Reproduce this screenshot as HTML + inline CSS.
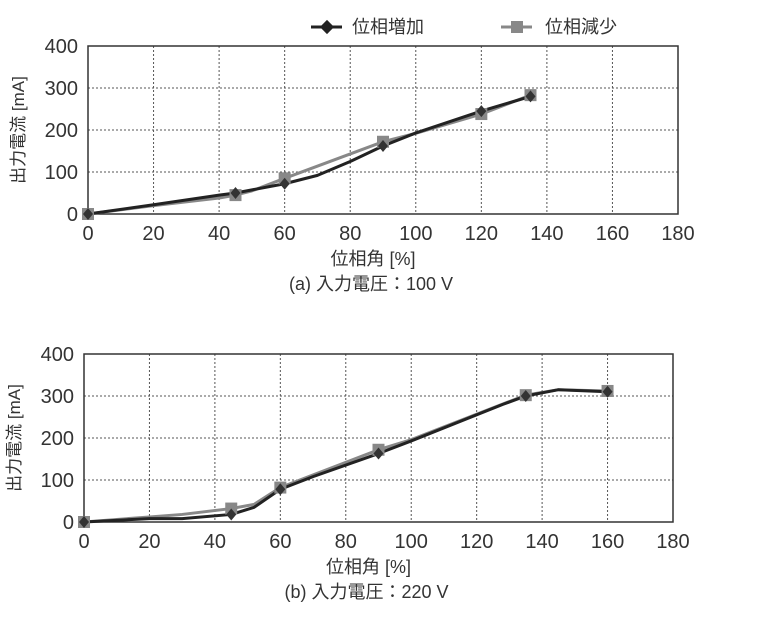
<!DOCTYPE html>
<html><head><meta charset="utf-8">
<style>
body{margin:0;background:#fff;}
svg text{font-family:"Liberation Sans Narrow","Liberation Sans","Noto Sans CJK JP",sans-serif;fill:#333;}
</style></head>
<body>
<svg id="c" width="766" height="620" viewBox="0 0 766 620">
<g>
 <g>
  <line x1="311" y1="27" x2="342" y2="27" stroke="#222" stroke-width="3"/>
  <rect x="322" y="22" width="10" height="10" fill="#222" transform="rotate(45 327 27)"/>
  <text x="352" y="33" font-size="18">位相増加</text>
 </g>
 <g>
  <line x1="501" y1="27" x2="532" y2="27" stroke="#888" stroke-width="3"/>
  <rect x="511" y="21" width="12" height="12" fill="#888"/>
  <text x="545" y="33" font-size="18">位相減少</text>
 </g>
</g>
</svg>
<script>
const xTicks=[0,20,40,60,80,100,120,140,160,180];
const yTicks=[0,100,200,300,400];
const aIncX=[0,20,40,45,60,70,80,90,100,120,135];
const aIncY=[0,22,45,50,72,92,125,162,193,245,280];
const aIncMarkX=[0,45,60,90,120,135];
const aIncMarkY=[0,50,72,162,245,280];
const aDecX=[0,20,40,45,50,60,90,100,120,135];
const aDecY=[0,20,38,45,55,85,172,192,238,283];
const aDecMarkX=[0,45,60,90,120,135];
const aDecMarkY=[0,45,85,172,238,283];
const bIncX=[0,20,30,45,52,60,70,90,100,128,135,145,160];
const bIncY=[0,8,8,18,35,78,108,163,193,280,300,315,310];
const bIncMarkX=[0,45,60,90,135,160];
const bIncMarkY=[0,18,78,163,300,310];
const bDecX=[0,20,30,45,52,60,90,100,135,145,160];
const bDecY=[0,12,18,32,42,82,172,196,302,315,312];
const bDecMarkX=[0,45,60,90,135,160];
const bDecMarkY=[0,32,82,172,302,312];

const NS='http://www.w3.org/2000/svg';
const svg=document.getElementById('c');
function mk(tag,attrs,parent){const e=document.createElementNS(NS,tag);for(const k in attrs)e.setAttribute(k,attrs[k]);parent.appendChild(e);return e;}

function chart(name,L,R,T,B,inc,dec,caption){
 const g=mk('g',{},svg);
 
 
 const sx=v=>L+(R-L)*v/180, sy=v=>B-(B-T)*v/400;
 xTicks.forEach(t=>{if(t>0&&t<180){const l=mk('line',{x1:sx(t),x2:sx(t),y1:T,y2:B,stroke:'#555','stroke-width':1,'stroke-dasharray':'2,2'},g);
  }
  const tx=mk('text',{x:sx(t),y:B+26,'font-size':20,'text-anchor':'middle'},g);tx.textContent=t;
  });
 yTicks.forEach(t=>{if(t>0&&t<400){const l=mk('line',{x1:L,x2:R,y1:sy(t),y2:sy(t),stroke:'#555','stroke-width':1,'stroke-dasharray':'2,2'},g);
  }
  const tx=mk('text',{x:L-10,y:sy(t)+7,'font-size':20,'text-anchor':'end'},g);tx.textContent=t;
  });
 const fr=mk('rect',{x:L,y:T,width:R-L,height:B-T,fill:'none',stroke:'#333','stroke-width':1.5},g);
 
 const yt=mk('text',{x:0,y:0,'font-size':17,'text-anchor':'middle',transform:`translate(${L-64},${(T+B)/2}) rotate(-90)`},g);
 yt.textContent='出力電流 [mA]';
 const xt=mk('text',{x:(L+R)/2-10,y:B+51,'font-size':18,'text-anchor':'middle'},g);
 xt.textContent='位相角 [%]';
 const cp=mk('text',{x:(L+R)/2-12,y:B+76,'font-size':18,'text-anchor':'middle'},g);
 cp.textContent=caption;
 [[dec,'#888','decrease'],[inc,'#222','increase']].forEach(([s,col,nm])=>{
  const p=mk('polyline',{points:s[0].map((x,i)=>sx(x)+','+sy(s[1][i])).join(' '),fill:'none',stroke:col,'stroke-width':3,'stroke-linejoin':'round'},g);
  
 });
 dec[2].forEach((x,i)=>{const r=mk('rect',{x:sx(x)-6,y:sy(dec[3][i])-6,width:12,height:12,fill:'#888'},g);
  });
 inc[2].forEach((x,i)=>{const cx=sx(x),cy=sy(inc[3][i]);const r=mk('polygon',{points:`${cx},${cy-6} ${cx+5},${cy} ${cx},${cy+6} ${cx-5},${cy}`,fill:'#333'},g);
  });
}
chart('chart-a-100v',88,678,46,214,[aIncX,aIncY,aIncMarkX,aIncMarkY],[aDecX,aDecY,aDecMarkX,aDecMarkY],'(a) 入力電圧：100 V');
chart('chart-b-220v',84,673,354,522,[bIncX,bIncY,bIncMarkX,bIncMarkY],[bDecX,bDecY,bDecMarkX,bDecMarkY],'(b) 入力電圧：220 V');
</script>
</body></html>
